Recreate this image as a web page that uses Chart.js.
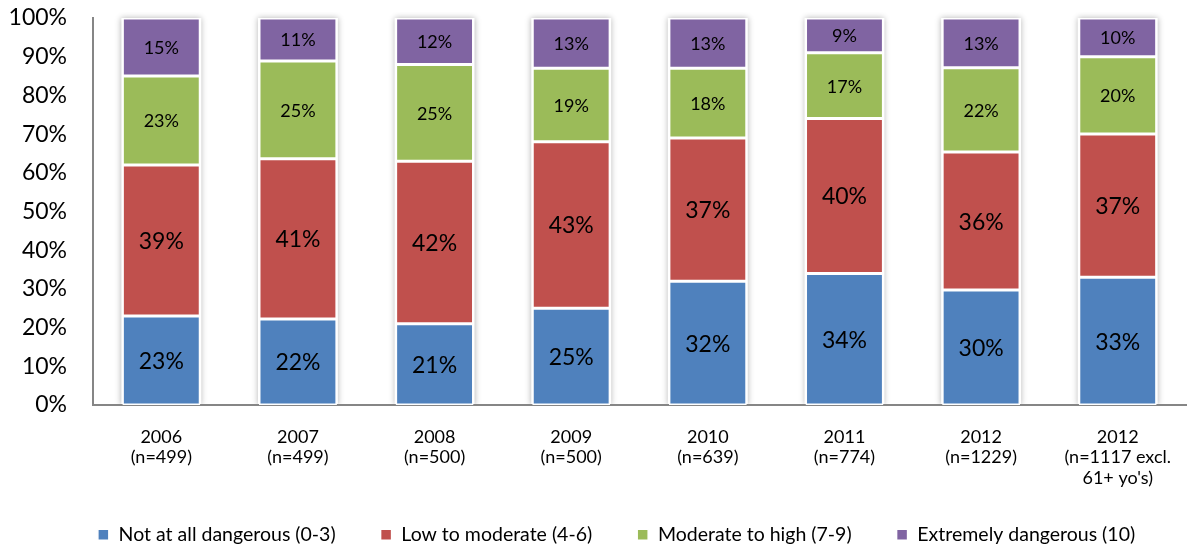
<!DOCTYPE html>
<html>
<head>
<meta charset="utf-8">
<script src="https://cdn.jsdelivr.net/npm/chart.js@4/dist/chart.umd.min.js"></script>
<style>
  html, body { margin: 0; padding: 0; background: #fff; }
  #wrap { width: 1193px; height: 549px; }
</style>
</head>
<body>
<div id="wrap"><canvas id="danger"></canvas></div>
<script>
// categories (survey year + sample size)
const years = [
    ['2006', '(n=499)'],
    ['2007', '(n=499)'],
    ['2008', '(n=500)'],
    ['2009', '(n=500)'],
    ['2010', '(n=639)'],
    ['2011', '(n=774)'],
    ['2012', '(n=1229)'],
    ['2012', '(n=1117 excl.', "61+ yo's)"]
];

// shares as printed on the bars (%)
const notDangerous = [23, 22, 21, 25, 32, 34, 30, 33];
const lowModerate  = [39, 41, 42, 43, 37, 40, 36, 37];
const modHigh      = [23, 25, 25, 19, 18, 17, 22, 20];
const extreme      = [15, 11, 12, 13, 13, 9, 13, 10];

const yTicks = [0, 10, 20, 30, 40, 50, 60, 70, 80, 90, 100];

// 100% stacked: each column is scaled to its own total
const totals = years.map((_, i) => notDangerous[i] + lowModerate[i] + modHigh[i] + extreme[i]);
const toShare = arr => arr.map((v, i) => v / totals[i] * 100);

const FONT = 'Lato, "Open Sans", sans-serif';

// soft grey shadow behind every whole column (Excel style)
const colShadow = {
    id: 'colShadow',
    beforeDatasetsDraw(chart) {
        const ctx = chart.ctx;
        const area = chart.chartArea;
        const first = chart.getDatasetMeta(0).data;
        const last = chart.getDatasetMeta(chart.data.datasets.length - 1).data;
        ctx.save();
        ctx.beginPath();
        ctx.rect(area.left + 1, area.top - 6, area.width, area.height + 5);
        ctx.clip();
        ctx.shadowColor = 'rgba(0, 0, 0, 0.3)';
        ctx.shadowBlur = 6;
        ctx.fillStyle = '#fff';
        first.forEach((bar, i) => {
            const top = last[i].y;
            ctx.fillRect(bar.x - bar.width / 2 - 1, top, bar.width + 2, bar.base - top);
        });
        ctx.restore();
    }
};

// draws the value labels in the middle of each segment
const segLabels = {
    id: 'segLabels',
    afterDatasetsDraw(chart) {
        const ctx = chart.ctx;
        ctx.save();
        ctx.textAlign = 'center';
        ctx.textBaseline = 'middle';
        ctx.fillStyle = '#000';
        chart.data.datasets.forEach((ds, di) => {
            const meta = chart.getDatasetMeta(di);
            ctx.font = ds.labelSize + 'px ' + FONT;
            meta.data.forEach((bar, i) => {
                const mid = (bar.y + bar.base) / 2;
                ctx.fillText(ds.raw[i] + '%', bar.x, mid + 1);
            });
        });
        ctx.restore();
    }
};

// legend keeps wide gaps between items but only takes a thin strip in the layout;
// here its box is moved under the axis labels, slightly right of centre like the original
const legendSpot = {
    id: 'legendSpot',
    afterLayout(chart) {
        const lg = chart.legend;
        lg.top = 480;
        lg.bottom = chart.height;
        lg.height = lg.bottom - lg.top;
        lg.left += 20;
        lg.right += 20;
    }
};

const ctx = document.getElementById('danger').getContext('2d');

new Chart(ctx, {
    type: 'bar',
    data: {
        labels: years,
        datasets: [
            { label: 'Not at all dangerous (0-3)', data: toShare(notDangerous), raw: notDangerous, labelSize: 23, backgroundColor: '#4F81BD' },
            { label: 'Low to moderate (4-6)', data: toShare(lowModerate), raw: lowModerate, labelSize: 23, backgroundColor: '#C0504D' },
            { label: 'Moderate to high (7-9)', data: toShare(modHigh), raw: modHigh, labelSize: 18, backgroundColor: '#9BBB59' },
            { label: 'Extremely dangerous (10)', data: toShare(extreme), raw: extreme, labelSize: 18, backgroundColor: '#8064A2' }
        ].map(d => Object.assign(d, {
            borderColor: '#ffffff',
            borderWidth: 1.5,
            borderSkipped: false,
            barPercentage: 0.57,
            categoryPercentage: 1
        }))
    },
    options: {
        responsive: true,
        maintainAspectRatio: false,
        animation: false,
        layout: { padding: { top: 18, right: 0, bottom: 4, left: 0 } },
        plugins: {
            legend: {
                position: 'bottom',
                maxHeight: 10,
                labels: {
                    color: '#000',
                    font: { family: FONT, size: 19.5 },
                    boxWidth: 11,
                    boxHeight: 11,
                    padding: 45
                }
            },
            tooltip: { enabled: false }
        },
        scales: {
            x: {
                stacked: true,
                grid: { display: false, drawTicks: false },
                border: { display: true, color: '#868686', width: 2 },
                ticks: {
                    color: '#000',
                    font: { family: FONT, size: 18, lineHeight: 1.13 },
                    padding: 22,
                    maxRotation: 0,
                    autoSkip: false
                },
                afterFit(scale) { scale.height = 130; }
            },
            y: {
                stacked: true,
                min: 0,
                max: 100,
                grid: { display: false, drawTicks: false },
                border: { display: true, color: '#868686', width: 2 },
                afterBuildTicks(scale) { scale.ticks = yTicks.map(v => ({ value: v })); },
                ticks: {
                    color: '#000',
                    font: { family: FONT, size: 23 },
                    padding: 26,
                    callback: v => v + '%'
                },
                afterFit(scale) {
                    scale.width = 93;
                    scale.paddingTop = 0;
                    scale.paddingBottom = 0;
                }
            }
        }
    },
    plugins: [colShadow, segLabels, legendSpot]
});
</script>
</body>
</html>
